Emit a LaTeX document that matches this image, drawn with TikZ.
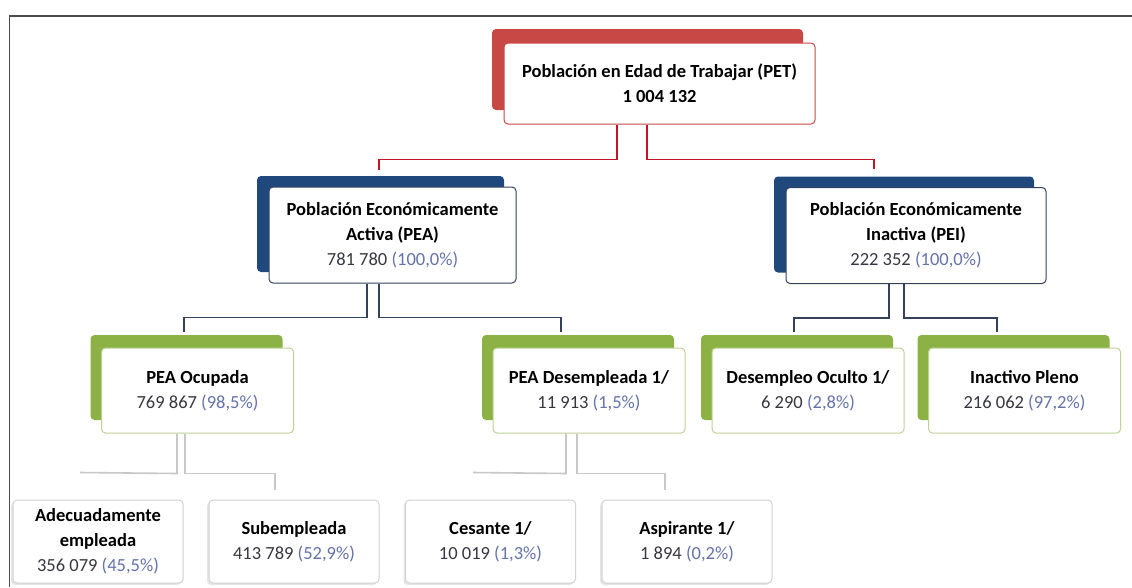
\documentclass[tikz,border=0pt]{standalone}
\usepackage{fontspec}
\setmainfont{Carlito}
\usetikzlibrary{shadows}

\definecolor{petred}{RGB}{200,72,70}
\definecolor{petline}{RGB}{196,20,40}
\definecolor{peablue}{RGB}{31,73,125}
\definecolor{pealine}{RGB}{52,64,92}
\definecolor{leafgreen}{RGB}{140,178,70}
\definecolor{leafborder}{RGB}{190,210,150}
\definecolor{numgray}{RGB}{55,55,65}
\definecolor{pctblue}{RGB}{100,115,170}

\newcommand{\pct}[1]{\textcolor{pctblue}{(#1)}}
\newcommand{\num}[1]{\textcolor{numgray}{#1}}

\begin{document}
\begin{tikzpicture}[x=1pt,y=-1pt,
  box/.style={draw,rounded corners=4pt,fill=white,align=center,inner sep=2pt,
    line width=1pt,font=\fontsize{18.5}{25}\selectfont},
  top box/.style={box,draw=petred,minimum width=311pt,minimum height=81pt,
    general shadow={fill=petred,shadow xshift=-12pt,shadow yshift=14pt}},
  mid box/.style={box,draw=pealine,minimum height=96pt,
    general shadow={fill=peablue,shadow xshift=-12pt,shadow yshift=11pt}},
  leaf box/.style={box,draw=leafborder,minimum width=192pt,minimum height=85pt,
    general shadow={fill=leafgreen,shadow xshift=-11pt,shadow yshift=13pt}},
  end box/.style={box,draw=black!18,minimum width=170pt,minimum height=83pt,
    general shadow={fill=black!10,shadow xshift=-2pt,shadow yshift=-2pt}},
  petlink/.style={draw=petline,line width=1.6pt},
  pealink/.style={draw=pealine,line width=1.6pt},
  endlink/.style={draw=black!22,line width=1.6pt}]

  \useasboundingbox (0,0) rectangle (1132,587);
  \draw[black!70,line width=1.4pt] (9.5,587) -- (9.5,16) -- (1132,16);

  % top
  \node[top box] (pet) at (659.5,83.5)
    {\textbf{Población en Edad de Trabajar (PET)}\\ \textbf{1~004~132}};

  % second row
  \node[mid box,minimum width=247pt] (pea) at (392.5,235)
    {\textbf{Población Económicamente}\\ \textbf{Activa (PEA)}\\ \num{781~780} \pct{100,0\%}};
  \node[mid box,minimum width=260pt] (pei) at (916,235.5)
    {\textbf{Población Económicamente}\\ \textbf{Inactiva (PEI)}\\ \num{222~352} \pct{100,0\%}};

  % third row
  \node[leaf box] (ocup) at (197.5,390.5)
    {\textbf{PEA Ocupada}\\ \num{769~867} \pct{98,5\%}};
  \node[leaf box] (desemp) at (589,390.5)
    {\textbf{PEA Desempleada 1/}\\ \num{11~913} \pct{1,5\%}};
  \node[leaf box] (oculto) at (808,390.5)
    {\textbf{Desempleo Oculto 1/}\\ \num{6~290} \pct{2,8\%}};
  \node[leaf box] (pleno) at (1024.5,390.5)
    {\textbf{Inactivo Pleno}\\ \num{216~062} \pct{97,2\%}};

  % fourth row
  \node[end box] (adec) at (98,541.5)
    {\textbf{Adecuadamente}\\ \textbf{empleada}\\ \num{356~079} \pct{45,5\%}};
  \node[end box] (subemp) at (294,541.5)
    {\textbf{Subempleada}\\ \num{413~789} \pct{52,9\%}};
  \node[end box] (cesante) at (490.5,541.5)
    {\textbf{Cesante 1/}\\ \num{10~019} \pct{1,3\%}};
  \node[end box] (aspir) at (687,541.5)
    {\textbf{Aspirante 1/}\\ \num{1~894} \pct{0,2\%}};

  % links
  \draw[petlink] ([xshift=-42.5pt]pet.south) -- ++(0,35) -| ([xshift=-13.5pt,yshift=17pt]pea.north);
  \draw[petlink] ([xshift=-12.5pt]pet.south) -- ++(0,35) -| ([xshift=-42pt,yshift=18pt]pei.north);

  \draw[pealink] ([xshift=-25.5pt]pea.south) -- ++(0,34) -| ([xshift=-13.5pt,yshift=16pt]ocup.north);
  \draw[pealink] ([xshift=-13.5pt]pea.south) -- ++(0,34) -| ([xshift=-28pt,yshift=16pt]desemp.north);
  \draw[pealink] ([xshift=-27pt]pei.south) -- ++(0,34) -| ([xshift=-14pt,yshift=16pt]oculto.north);
  \draw[pealink] ([xshift=-12pt]pei.south) -- ++(0,34) -| ([xshift=-27.5pt,yshift=16pt]pleno.north);

  \draw[endlink] ([xshift=-20.5pt]ocup.south) -- ++(0,40) -- ([xshift=-18pt,yshift=27pt]adec.north);
  \draw[endlink] ([xshift=-12.5pt]ocup.south) -- ++(0,40) -| ([xshift=-19pt,yshift=10pt]subemp.north);
  \draw[endlink] ([xshift=-23pt]desemp.south) -- ++(0,40) -- ([xshift=-17.5pt,yshift=27pt]cesante.north);
  \draw[endlink] ([xshift=-12pt]desemp.south) -- ++(0,40) -| ([xshift=-22pt,yshift=10pt]aspir.north);
\end{tikzpicture}
\end{document}
